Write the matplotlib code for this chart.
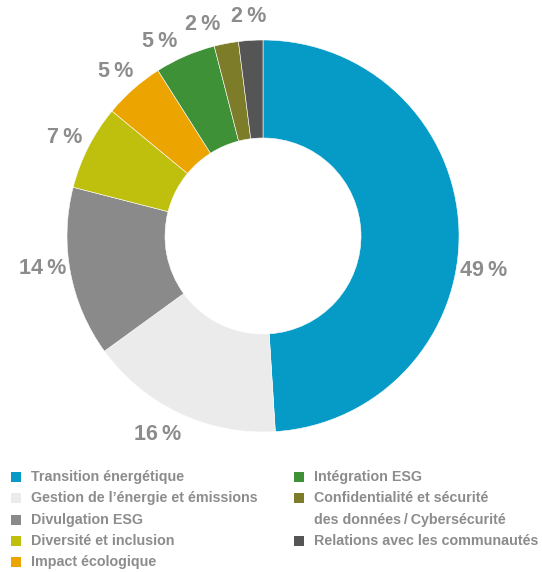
import numpy as np
import matplotlib
matplotlib.use("Agg")
import matplotlib.pyplot as plt
from matplotlib.patches import Rectangle

categories = ["Transition énergétique", "Gestion de l’énergie et émissions", "Divulgation ESG",
              "Diversité et inclusion", "Impact écologique", "Intégration ESG",
              "Confidentialité et sécurité\ndes données\u2009/\u2009Cybersécurité",
              "Relations avec les communautés"]
values = [49, 16, 14, 7, 5, 5, 2, 2]
colors = ["#069ac6", "#ebebeb", "#8a8a8a", "#bfc00e", "#eca400", "#3f9137", "#7d7c28", "#555555"]

font = "Liberation Sans"
text_gray = "#8c8c8c"

W, H = 542, 572
fig = plt.figure(figsize=(W / 100, H / 100), dpi=100)

# pie axes: full figure, data units where radius = 1
cx, cy, R = 263, 236, 196
ax = fig.add_axes([0, 0, 1, 1])
wedges, _ = ax.pie(values, colors=colors, startangle=90, counterclock=False, radius=1,
                   wedgeprops=dict(width=0.5, edgecolor="white", linewidth=0.4))
ax.set_xlim(-cx / R, (W - cx) / R)
ax.set_ylim((cy - H) / R, cy / R)
ax.set_aspect("auto")
ax.axis("off")

# label angles: wedge mid-angles, spread so small labels don't collide
mids = [(w.theta1 + w.theta2) / 2 for w in wedges]
angles = list(mids)
min_sep = 12.0
for i in range(len(angles) - 2, 0, -1):
    a, nxt = angles[i] % 360, angles[i + 1] % 360
    if a - nxt < min_sep:
        angles[i] = nxt + min_sep
angles[0] = mids[0] - 10  # big wedge label sits a little lower
angles[1] -= 3
angles[2] -= 3
label_r = 1.135
for v, a in zip(values, angles):
    t = np.deg2rad(a)
    ax.text(label_r * np.cos(t), label_r * np.sin(t), f"{v}\u2009%", ha="center",
            va="center_baseline",
            fontsize=15.5, fontweight="bold", color=text_gray, family=font)

# legend overlay in pixel coords
lax = fig.add_axes([0, 0, 1, 1])
lax.set_xlim(0, W)
lax.set_ylim(H, 0)
lax.axis("off")
col_x = [11, 294]
row_h = 21.3
y0 = 477
slots = [(0, 0), (0, 1), (0, 2), (0, 3), (0, 4), (1, 0), (1, 1), (1, 3)]
for (col, row), lab, c in zip(slots, categories, colors):
    x = col_x[col]
    y = y0 + row * row_h
    lax.add_patch(Rectangle((x, y - 5), 10, 10, facecolor=c, edgecolor="none"))
    lines = lab.split("\n")
    for k, line in enumerate(lines):
        lax.text(x + 20, y + k * row_h, line, fontsize=10.3, fontweight="bold", color=text_gray,
                 family=font, va="center")

fig.savefig("out.png", dpi=100)
